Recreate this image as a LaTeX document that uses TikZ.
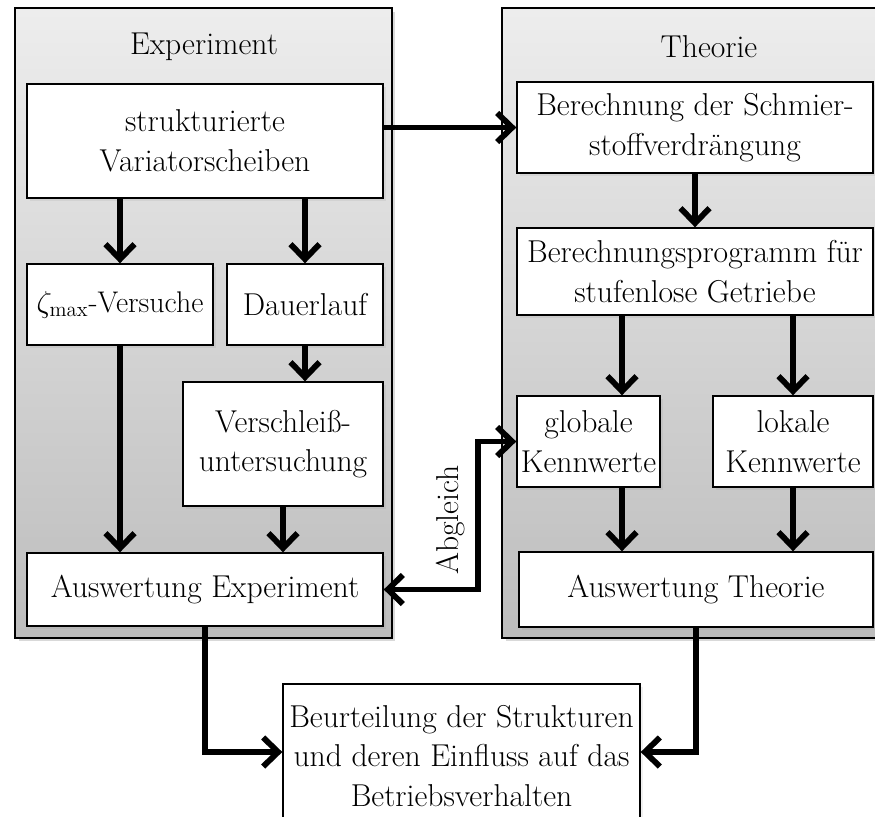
\documentclass[tikz,border=0pt]{standalone}
\usepackage{fontspec}
\usetikzlibrary{arrows.meta,shadows}

\begin{document}
\begin{tikzpicture}[x=0.02cm, y=-0.02cm,
  font=\fontsize{18}{22.5}\selectfont,
  panel/.style = {draw, line width=1.1pt, top color=black!7, bottom color=black!26,
    drop shadow={opacity=0.3, shadow xshift=2pt, shadow yshift=-2pt}, inner sep=0pt},
  block/.style = {draw, line width=0.8pt, fill=white, align=center, inner sep=0pt,
    drop shadow={opacity=0.12, shadow xshift=1.5pt, shadow yshift=-1.5pt}},
  flow/.style = {line width=3.3pt, -{Straight Barb[length=3mm, width=5.8mm]}},
  both/.style = {line width=3.3pt, {Straight Barb[length=3mm, width=5.8mm]}-{Straight Barb[length=3mm, width=5.8mm]}}]
\useasboundingbox (0,0) rectangle (875,816);

% Gruppen
\node[panel, minimum width=7.54cm, minimum height=12.6cm] (exp) at (203.5,323) {};
\node[panel, minimum width=7.66cm, minimum height=12.6cm] (theo) at (693.5,323) {};
\node (expT) at (204,47) {Experiment};
\node (theoT) at (709,47) {Theorie};

% Experiment
\node[block, minimum width=7.12cm, minimum height=2.28cm] (struct) at (205,141) {strukturierte\\Variatorscheiben};
\node[block, minimum width=3.72cm, minimum height=1.62cm, font=\fontsize{17}{21}\selectfont] (zeta) at (120,304.5) {$\zeta_{\mathrm{max}}$-Versuche};
\node[block, minimum width=3.12cm, minimum height=1.62cm] (dauer) at (305,304.5) {Dauerlauf};
\node[block, minimum width=4cm, minimum height=2.48cm] (versch) at (283,444) {Verschleiß-\\untersuchung};
\node[block, minimum width=7.12cm, minimum height=1.46cm] (auswE) at (205,589.5) {Auswertung Experiment};

% Theorie
\node[block, minimum width=7.12cm, minimum height=1.82cm] (schmier) at (695,127.5) {Berechnung der Schmier-\\stoffverdrängung};
\node[block, minimum width=7.12cm, minimum height=1.74cm] (prog) at (695,271.5) {Berechnungsprogramm für\\stufenlose Getriebe};
\node[block, minimum width=2.86cm, minimum height=1.82cm] (glob) at (588.5,441.5) {globale\\Kennwerte};
\node[block, minimum width=3.2cm, minimum height=1.82cm] (lokal) at (793,441.5) {lokale\\Kennwerte};
\node[block, minimum width=7.08cm, minimum height=1.5cm] (auswT) at (696,589.5) {Auswertung Theorie};

% Ergebnis
\node[block, minimum width=7.14cm, minimum height=2.88cm] (beurt) at (461.5,756) {Beurteilung der Strukturen\\und deren Einfluss auf das\\Betriebsverhalten};

% Pfeile
\draw[flow] (zeta.north |- struct.south) -- (zeta.north);
\draw[flow] (dauer.north |- struct.south) -- (dauer.north);
\draw[flow] (dauer.south) -- (dauer.south |- versch.north);
\draw[flow] (zeta.south) -- (zeta.south |- auswE.north);
\draw[flow] (versch.south) -- (versch.south |- auswE.north);
\draw[flow] (struct.east |- schmier.west) -- (schmier.west);
\draw[flow] (schmier.south) -- (schmier.south |- prog.north);
\draw[flow] ([xshift=0.67cm]glob.north |- prog.south) -- ([xshift=0.67cm]glob.north);
\draw[flow] (lokal.north |- prog.south) -- (lokal.north);
\draw[flow] ([xshift=0.67cm]glob.south) -- ([xshift=0.67cm]glob.south |- auswT.north);
\draw[flow] (lokal.south) -- (lokal.south |- auswT.north);
\draw[both] (auswE.east) -- ++(94,0) |- (glob.west);
\node[rotate=90] (abgl) at (451,520) {Abgleich};
\draw[flow] (auswE.south) |- ([yshift=0.08cm]beurt.west);
\draw[flow] (auswT.south) |- ([yshift=0.08cm]beurt.east);
\end{tikzpicture}
\end{document}
